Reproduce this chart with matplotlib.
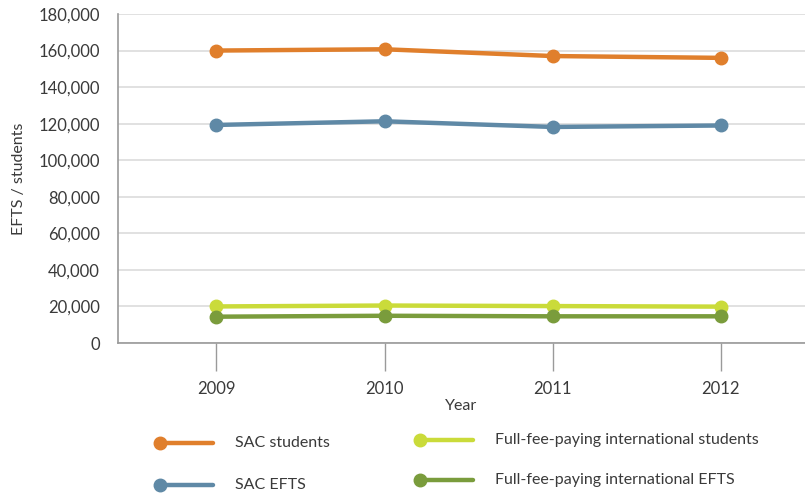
import matplotlib
matplotlib.use("Agg")
import matplotlib.pyplot as plt
from matplotlib.ticker import FuncFormatter

years = ["2009", "2010", "2011", "2012"]
sac_students = [160000, 160700, 157000, 156000]
sac_efts = [119300, 121300, 118200, 119000]
intl_students = [20000, 20500, 20200, 19900]
intl_efts = [14400, 14900, 14600, 14600]

series_names = ["SAC students", "SAC EFTS",
                "Full-fee-paying international students",
                "Full-fee-paying international EFTS"]
series_values = [sac_students, sac_efts, intl_students, intl_efts]
series_colors = ["#E07F2C", "#5F89A6", "#CADB3A", "#7A9C3C"]

y_ticks = list(range(0, 180001, 20000))

plt.rcParams["font.family"] = ["Lato", "DejaVu Sans"]
text_color = "#3a3a3a"

W, H = 805, 495
fig = plt.figure(figsize=(W / 100, H / 100), dpi=100)
ax = fig.add_axes([118 / W, 152 / H, (W - 118) / W, (343 - 14) / H])

x = list(range(len(years)))
for vals, col in zip(series_values, series_colors):
    ax.plot(x, vals, color=col, lw=3.2, marker="o", ms=9, solid_capstyle="round", zorder=3)

ax.set_ylim(0, 180000)
ax.set_xlim(-0.585, 3.5)
ax.set_yticks(y_ticks)
ax.yaxis.set_major_formatter(FuncFormatter(lambda v, p: f"{int(v):,}"))
ax.set_xticks(x)
ax.set_xticklabels(years)
ax.grid(axis="y", color="#dcdcdc", lw=1.2)
ax.set_axisbelow(True)
for s in ["top", "right"]:
    ax.spines[s].set_visible(False)
for s in ["left", "bottom"]:
    ax.spines[s].set_color("#9a9a9a")
    ax.spines[s].set_linewidth(1.2)
ax.tick_params(axis="y", length=0, pad=13, labelsize=12, labelcolor=text_color)
ax.tick_params(axis="x", direction="out", length=20, width=1, color="#9a9a9a",
               pad=7, labelsize=12, labelcolor=text_color)
ax.set_xlabel("Year", fontsize=11.5, color=text_color, labelpad=2)
ax.yaxis.set_label_coords(-92 / (W - 118), 0.5)
ax.set_ylabel("EFTS / students", fontsize=11.5, color=text_color)

# legend: line with a dot at its left end, then the series name
leg_pos = [(160, 443), (160, 485), (420, 440), (420, 480)]
for (px, py), name, col in zip(leg_pos, series_names, series_colors):
    fx0, fx1 = px / W, (px + 53) / W
    fy = 1 - py / H
    fig.add_artist(plt.Line2D([fx0, fx1], [fy, fy], color=col, lw=3.2,
                              solid_capstyle="round", transform=fig.transFigure))
    fig.add_artist(plt.Line2D([fx0], [fy], color=col, marker="o", ms=9, lw=0,
                              transform=fig.transFigure))
    fig.text((px + 75) / W, fy, name, fontsize=11.5, color=text_color,
             va="center", ha="left")

fig.savefig("out.png", dpi=100)
